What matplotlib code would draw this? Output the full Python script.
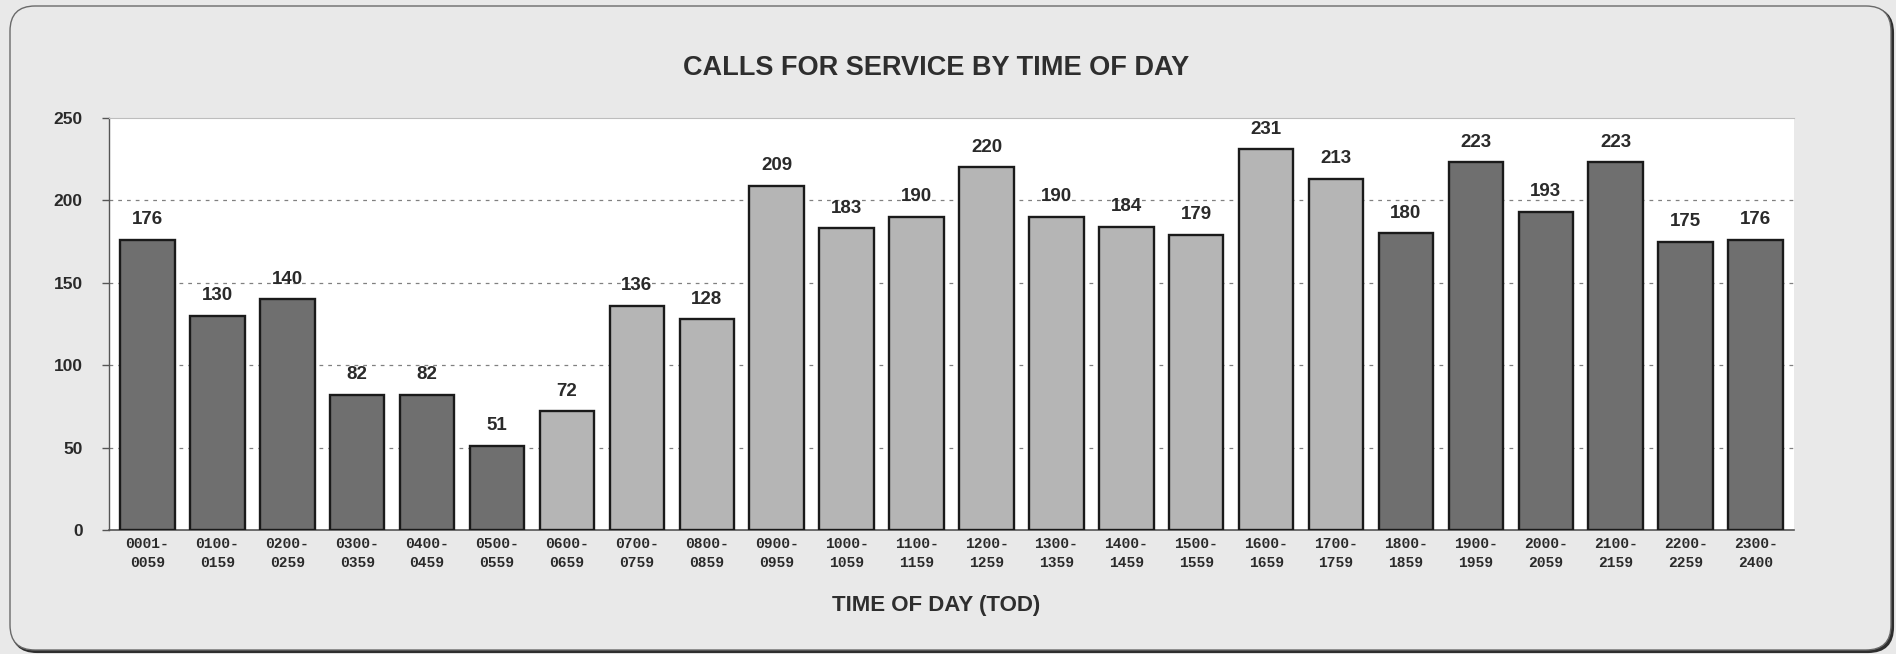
import matplotlib
matplotlib.use("Agg")
import matplotlib.pyplot as plt
from matplotlib.patches import FancyBboxPatch

categories = ["0001-\n0059", "0100-\n0159", "0200-\n0259", "0300-\n0359", "0400-\n0459",
              "0500-\n0559", "0600-\n0659", "0700-\n0759", "0800-\n0859", "0900-\n0959",
              "1000-\n1059", "1100-\n1159", "1200-\n1259", "1300-\n1359", "1400-\n1459",
              "1500-\n1559", "1600-\n1659", "1700-\n1759", "1800-\n1859", "1900-\n1959",
              "2000-\n2059", "2100-\n2159", "2200-\n2259", "2300-\n2400"]
values = [176, 130, 140, 82, 82, 51, 72, 136, 128, 209, 183, 190, 220, 190, 184,
          179, 231, 213, 180, 223, 193, 223, 175, 176]
# shift group: 0 = night (dark), 1 = day (light)
groups = [0, 0, 0, 0, 0, 0, 1, 1, 1, 1, 1, 1, 1, 1, 1, 1, 1, 1, 0, 0, 0, 0, 0, 0]
yticks = [0, 50, 100, 150, 200, 250]

group_colors = {0: "#6f6f6f", 1: "#b5b5b5"}
bg = "#e9e9e9"

W, H = 1896, 654
fig = plt.figure(figsize=(W / 100, H / 100), dpi=100)
fig.patch.set_facecolor(bg)

# rounded frame around the whole chart (with a darker shadow on right/bottom)
fx0, fy0, fx1, fy1 = 10, 6, 1891, 650
r = 25 / W
shadow = FancyBboxPatch(((fx0 + 2) / W, 1 - (fy1 + 2) / H), (fx1 - fx0) / W, (fy1 - fy0) / H,
                        boxstyle=f"round,pad=0,rounding_size={r}",
                        transform=fig.transFigure, facecolor="#2e2e2e",
                        edgecolor="#2e2e2e", linewidth=1.5, zorder=0,
                        mutation_aspect=W / H)
frame = FancyBboxPatch((fx0 / W, 1 - fy1 / H), (fx1 - fx0) / W, (fy1 - fy0) / H,
                       boxstyle=f"round,pad=0,rounding_size={r}",
                       transform=fig.transFigure, facecolor=bg,
                       edgecolor="#6a6a6a", linewidth=1.0, zorder=0,
                       mutation_aspect=W / H)
fig.patches.append(shadow)
fig.patches.append(frame)

left, right, top, bottom = 109, 1794, 118, 530
ax = fig.add_axes([left / W, 1 - bottom / H, (right - left) / W, (bottom - top) / H])
ax.set_facecolor("white")
ax.set_zorder(1)

x = list(range(len(values)))
colors = [group_colors[g] for g in groups]
ax.bar(x, values, width=0.78, color=colors, edgecolor="#1a1a1a", linewidth=1.7, zorder=3)

for xi, v in zip(x, values):
    ax.text(xi, v + 7, str(v), ha="center", va="bottom", fontsize=13.5,
            fontweight="bold", family="Liberation Sans", color="#2a2a2a", zorder=4)

ax.set_xlim(-0.55, len(values) - 0.45)
ax.set_ylim(0, 250)
ax.set_yticks(yticks)
ax.set_yticklabels([str(t) for t in yticks], fontsize=12.5, fontweight="bold",
                   family="Liberation Sans", color="#2a2a2a")
ax.set_xticks(x)
ax.set_xticklabels(categories, fontsize=10.5, fontweight="bold", family="Liberation Mono",
                   color="#2a2a2a", linespacing=1.5)
ax.tick_params(axis="x", length=0, pad=5)
ax.tick_params(axis="y", length=5, width=1, direction="out", pad=14, color="#555555")

for yv in yticks[1:-1]:
    ax.axhline(yv, color="#808080", linestyle=(0, (3, 4)), linewidth=0.9, zorder=1)

ax.spines["left"].set_color("#555555")
ax.spines["bottom"].set_color("#555555")
ax.spines["left"].set_linewidth(1.0)
ax.spines["bottom"].set_linewidth(1.2)
ax.spines["top"].set_color("#bdbdbd")
ax.spines["right"].set_visible(False)

cx = 936 / W
fig.text(cx, 1 - 68 / H, "CALLS FOR SERVICE BY TIME OF DAY",
         ha="center", va="center", fontsize=19.5, fontweight="bold",
         family="Liberation Sans", color="#2e2e2e")
fig.text(cx, 1 - 606 / H, "TIME OF DAY (TOD)",
         ha="center", va="center", fontsize=16, fontweight="bold",
         family="Liberation Sans", color="#2e2e2e")

fig.savefig("out.png", dpi=100, facecolor=fig.get_facecolor())
